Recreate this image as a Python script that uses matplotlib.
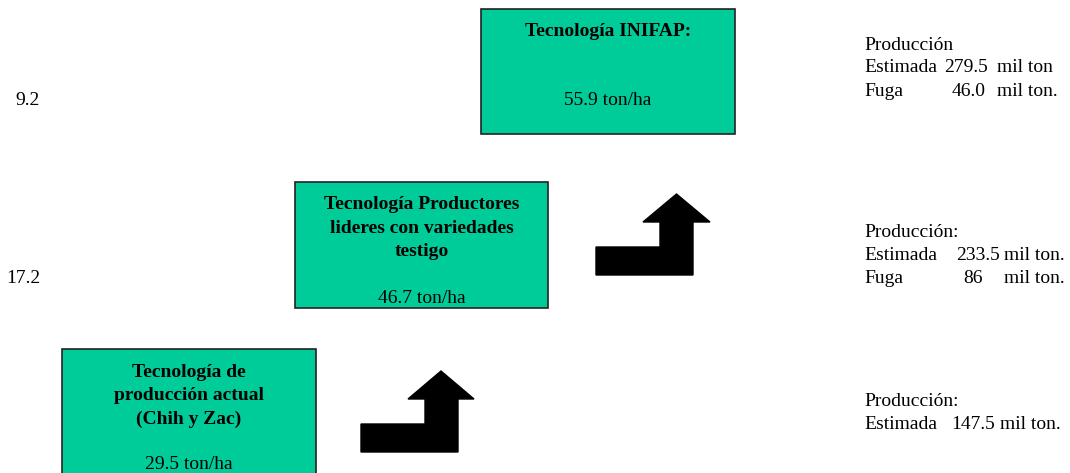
import matplotlib.pyplot as plt
from matplotlib.patches import Rectangle, Polygon

plt.rcParams['font.family'] = ['Liberation Serif', 'DejaVu Serif']

# datos
niveles = ['Tecnología de\nproducción actual\n(Chih y Zac)',
           'Tecnología Productores\nlideres con variedades\ntestigo',
           'Tecnología INIFAP:']
rendimientos = [29.5, 46.7, 55.9]
estimada = ['147.5', '233.5', '279.5']
unidad_est = ['mil ton.', 'mil ton.', 'mil ton']
fuga = [None, '86', '46.0']
titulo_prod = ['Producción:', 'Producción:', 'Producción']
brechas = ['17.2', '9.2']

# posiciones en pixeles (y hacia abajo)
cajas = [(62, 349, 316, 480), (295, 182, 548, 308), (481, 9, 735, 134)]
y_titulo = [396, 228, 31]
y_rend = [464, 298, 100]
y_filas = [(401, 424), (232, 255, 278), (45, 68, 91)]
x_num = [995, 1000, 988]
x_uni = [1000, 1004, 997]
y_brecha = [278, 100]

fig = plt.figure(figsize=(10.7, 4.73), dpi=100)
ax = fig.add_axes([0, 0, 1, 1])
ax.set_xlim(0, 1070)
ax.set_ylim(473, 0)
ax.axis('off')

verde = '#00CC99'
for i in range(3):
    x0, y0, x1, y1 = cajas[i]
    ax.add_patch(Rectangle((x0, y0), x1 - x0, y1 - y0, facecolor=verde,
                           edgecolor='#222222', linewidth=1.2))
    cx = (x0 + x1) / 2
    ax.text(cx, y_titulo[i], niveles[i], ha='center', va='center', fontsize=14,
            fontweight='bold', linespacing=1.5)
    ax.text(cx, y_rend[i], '%.1f ton/ha' % rendimientos[i], ha='center',
            va='center', fontsize=14)

    # bloque de produccion a la derecha
    filas = y_filas[i]
    ax.text(864, filas[0], titulo_prod[i], ha='left', va='center', fontsize=14)
    ax.text(864, filas[1], 'Estimada', ha='left', va='center', fontsize=14)
    ax.text(x_num[i], filas[1], estimada[i], ha='right', va='center', fontsize=14)
    ax.text(x_uni[i], filas[1], unidad_est[i], ha='left', va='center', fontsize=14)
    if fuga[i] is not None:
        ax.text(864, filas[2], 'Fuga', ha='left', va='center', fontsize=14)
        ax.text(x_num[i] - (17 if i == 1 else 2), filas[2], fuga[i], ha='right',
                va='center', fontsize=14)
        ax.text(x_uni[i], filas[2], 'mil ton.', ha='left', va='center', fontsize=14)

for i in range(2):
    ax.text(40, y_brecha[i], brechas[i], ha='right', va='center', fontsize=14)


def flecha(xa, xb, xc, yb, yc, hx0, hx1, tip):
    # flecha en forma de L que sube
    ym = yc - 28
    pts = [(xa, yc), (xb, yc), (xb, yb), (hx1, yb), ((hx0 + hx1) / 2, tip),
           (hx0, yb), (xc, yb), (xc, ym), (xa, ym)]
    ax.add_patch(Polygon(pts, closed=True, facecolor='black', edgecolor='black'))


flecha(361, 458, 425, 399, 452, 408, 474, 371)
flecha(596, 693, 660, 222, 275, 643, 710, 194)

fig.savefig('out.png', dpi=100)
